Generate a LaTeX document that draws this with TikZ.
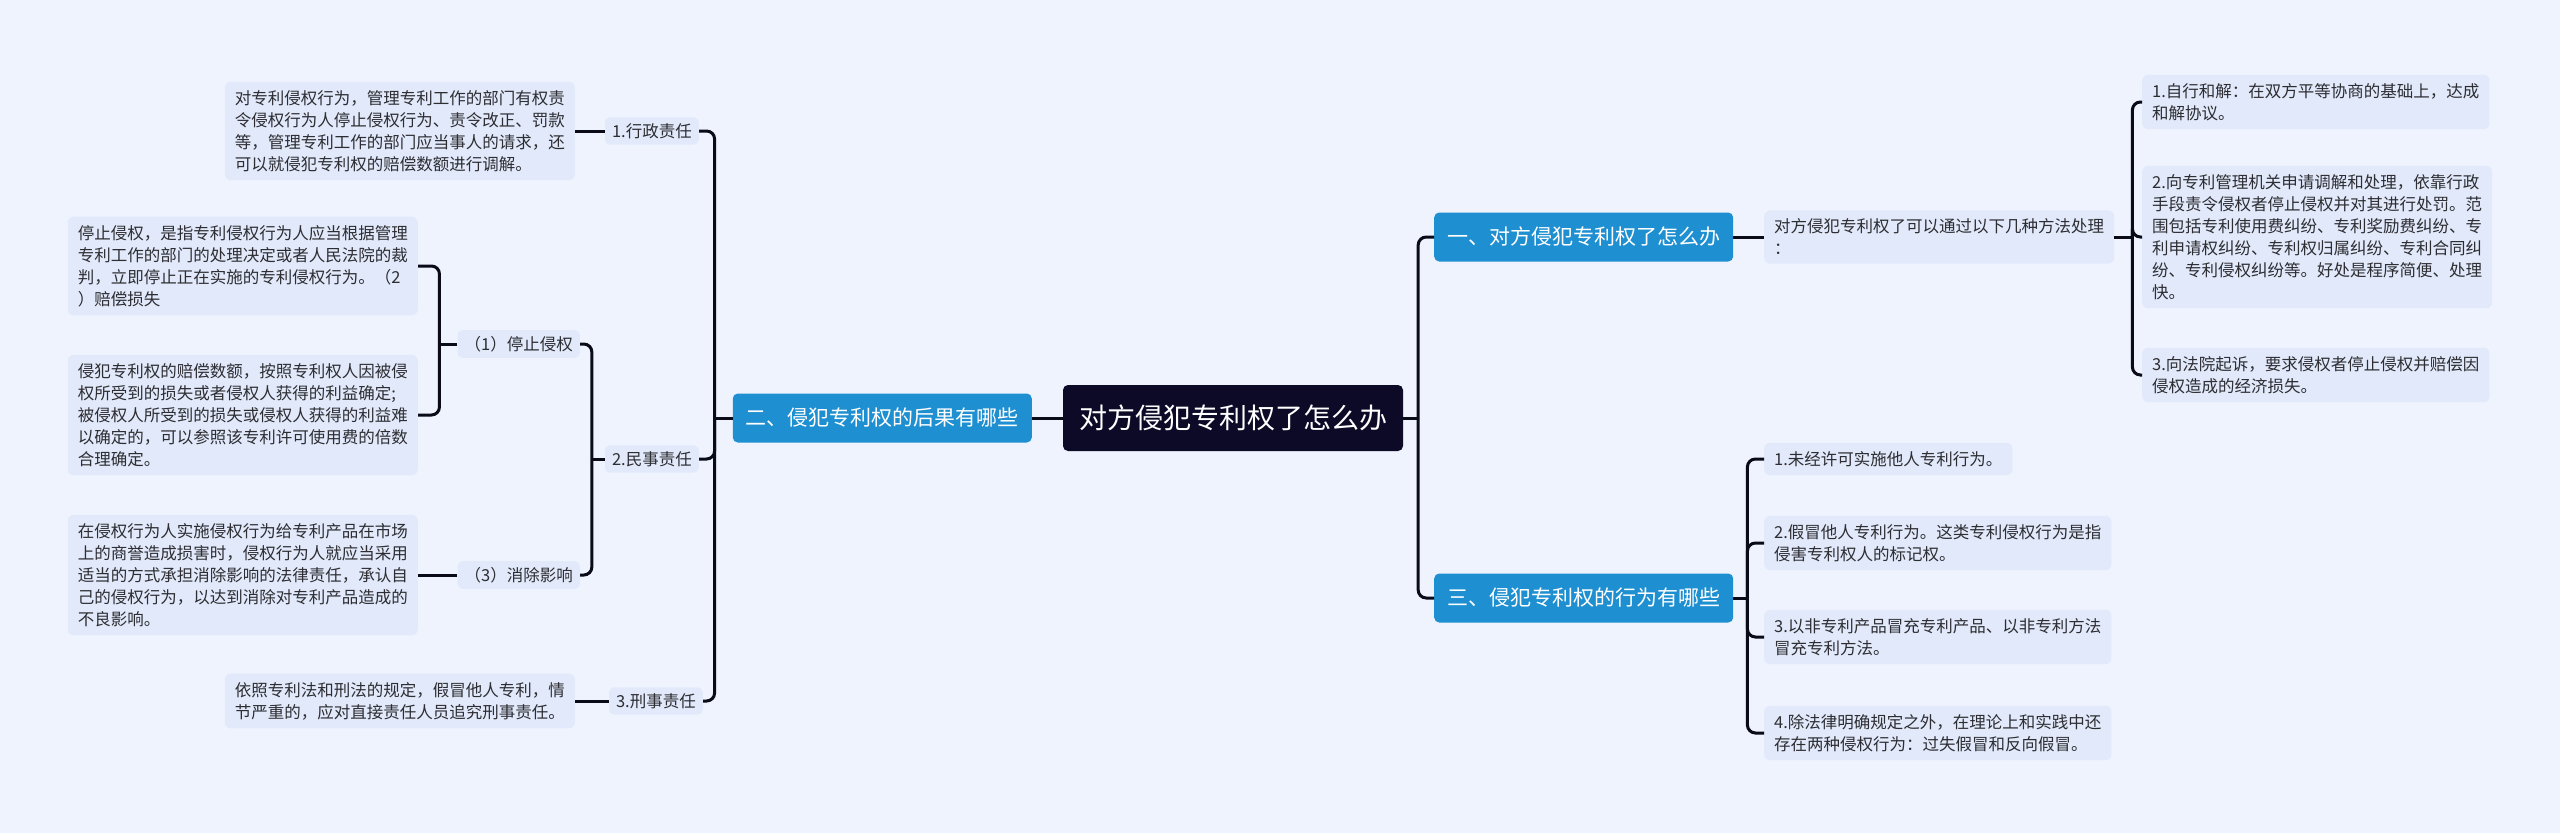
\documentclass[tikz,border=0pt]{standalone}
\usepackage{fontspec}
\newfontfamily\cjk{Noto Sans CJK SC}
\usepackage{xcolor}
\usetikzlibrary{calc}
\definecolor{mapbg}{RGB}{238,243,254}
\definecolor{leafbg}{RGB}{225,233,250}
\definecolor{branchblue}{RGB}{30,143,208}
\definecolor{rootnavy}{RGB}{13,10,40}
\definecolor{linedark}{RGB}{10,10,25}
\definecolor{textgray}{RGB}{45,45,50}

\begin{document}
\begin{tikzpicture}[x=1pt,y=-1pt,every node/.style={font=\cjk}]
  \tikzset{
    rootbox/.style={fill=rootnavy,text=white,rounded corners=5pt,minimum width=340pt,minimum height=66pt,font=\cjk\fontsize{28}{34}\selectfont},
    branch/.style={fill=branchblue,text=white,rounded corners=5pt,minimum width=299pt,minimum height=49pt,font=\cjk\fontsize{21}{26}\selectfont},
    leaf/.style={fill=leafbg,text=textgray,rounded corners=6pt,align=left,inner xsep=10pt,inner ysep=8.5pt,font=\cjk\fontsize{16.5}{22}\selectfont},
    smallbox/.style={fill=leafbg,text=textgray,rounded corners=5pt,inner xsep=7pt,inner ysep=6pt,font=\cjk\fontsize{16.5}{22}\selectfont},
    conn/.style={draw=linedark,line width=3pt},
    elbow/.style={conn,rounded corners=8pt}
  }
  \fill[mapbg] (0,0) rectangle (2560,833);
  \useasboundingbox (0,0) rectangle (2560,833);

  % centre and main branches
  \node[rootbox] (root) at (1233,418) {对方侵犯专利权了怎么办};
  \node[branch,anchor=east] (b2) at (1032,418) {二、侵犯专利权的后果有哪些};
  \node[branch,anchor=west] (b1) at (1434,237) {一、对方侵犯专利权了怎么办};
  \node[branch,anchor=west] (b3) at (1434,598) {三、侵犯专利权的行为有哪些};

  % right side, branch one
  \node[leaf,anchor=west] (howto) at (1764,237) {对方侵犯专利权了可以通过以下几种方法处理\\：};
  \node[leaf,anchor=west] (way1) at (2142,102) {1.自行和解：在双方平等协商的基础上，达成\\和解协议。};
  \node[leaf,anchor=west] (way2) at (2142,237) {2.向专利管理机关申请调解和处理，依靠行政\\手段责令侵权者停止侵权并对其进行处罚。范\\围包括专利使用费纠纷、专利奖励费纠纷、专\\利申请权纠纷、专利权归属纠纷、专利合同纠\\纷、专利侵权纠纷等。好处是程序简便、处理\\快。};
  \node[leaf,anchor=west] (way3) at (2142,375) {3.向法院起诉，要求侵权者停止侵权并赔偿因\\侵权造成的经济损失。};

  % right side, branch three
  \node[leaf,anchor=west] (act1) at (1764,459) {1.未经许可实施他人专利行为。};
  \node[leaf,anchor=west] (act2) at (1764,543) {2.假冒他人专利行为。这类专利侵权行为是指\\侵害专利权人的标记权。};
  \node[leaf,anchor=west] (act3) at (1764,637) {3.以非专利产品冒充专利产品、以非专利方法\\冒充专利方法。};
  \node[leaf,anchor=west] (act4) at (1764,733) {4.除法律明确规定之外，在理论上和实践中还\\存在两种侵权行为：过失假冒和反向假冒。};

  % left side, branch two
  \node[smallbox,anchor=east] (admin) at (699,131) {1.行政责任};
  \node[smallbox,anchor=east] (civil) at (699,459) {2.民事责任};
  \node[smallbox,anchor=east] (criminal) at (703,701) {3.刑事责任};
  \node[leaf,anchor=east] (adminnote) at (575,131) {对专利侵权行为，管理专利工作的部门有权责\\令侵权行为人停止侵权行为、责令改正、罚款\\等，管理专利工作的部门应当事人的请求，还\\可以就侵犯专利权的赔偿数额进行调解。};
  \node[smallbox,anchor=east] (stop) at (580,344) {（1）停止侵权};
  \node[smallbox,anchor=east] (clear) at (580,575) {（3）消除影响};
  \node[leaf,anchor=east] (stopnote1) at (418,266) {停止侵权，是指专利侵权行为人应当根据管理\\专利工作的部门的处理决定或者人民法院的裁\\判，立即停止正在实施的专利侵权行为。（2\\）赔偿损失};
  \node[leaf,anchor=east] (stopnote2) at (418,415) {侵犯专利权的赔偿数额，按照专利权人因被侵\\权所受到的损失或者侵权人获得的利益确定;\\被侵权人所受到的损失或侵权人获得的利益难\\以确定的，可以参照该专利许可使用费的倍数\\合理确定。};
  \node[leaf,anchor=east] (clearnote) at (418,575) {在侵权行为人实施侵权行为给专利产品在市场\\上的商誉造成损害时，侵权行为人就应当采用\\适当的方式承担消除影响的法律责任，承认自\\己的侵权行为，以达到消除对专利产品造成的\\不良影响。};
  \node[leaf,anchor=east] (criminalnote) at (575,701) {依照专利法和刑法的规定，假冒他人专利，情\\节严重的，应对直接责任人员追究刑事责任。};

  % connectors
  \coordinate (rj) at ($(root.east)+(15,0)$);
  \draw[conn] (root.east) -- (rj);
  \draw[elbow] (rj) |- (b1.west);
  \draw[elbow] (rj) |- (b3.west);
  \draw[conn] (root.west) -- (b2.east);

  \draw[conn] (b1.east) -- (howto.west);
  \coordinate (hj) at ($(howto.east)+(18,0)$);
  \draw[conn] (howto.east) -- (hj);
  \draw[elbow] (hj) |- (way1.west);
  \draw[elbow] (hj) |- (way2.west);
  \draw[elbow] (hj) |- (way3.west);

  \coordinate (tj) at ($(b3.east)+(14,0)$);
  \draw[conn] (b3.east) -- (tj);
  \draw[elbow] (tj) |- (act1.west);
  \draw[elbow] (tj) |- (act2.west);
  \draw[elbow] (tj) |- (act3.west);
  \draw[elbow] (tj) |- (act4.west);

  \coordinate (lj) at ($(b2.west)+(-18,0)$);
  \draw[conn] (b2.west) -- (lj);
  \draw[elbow] (lj) |- (admin.east);
  \draw[elbow] (lj) |- (civil.east);
  \draw[elbow] (lj) |- (criminal.east);
  \draw[conn] (admin.west) -- (adminnote.east);
  \draw[conn] (criminal.west) -- (criminalnote.east);

  \coordinate (cj) at ($(civil.west)+(-13,0)$);
  \draw[conn] (civil.west) -- (cj);
  \draw[elbow] (cj) |- (stop.east);
  \draw[elbow] (cj) |- (clear.east);

  \coordinate (sj) at ($(stop.west)+(-18,0)$);
  \draw[conn] (stop.west) -- (sj);
  \draw[elbow] (sj) |- (stopnote1.east);
  \draw[elbow] (sj) |- (stopnote2.east);
  \draw[conn] (clear.west) -- (clearnote.east);
\end{tikzpicture}
\end{document}
